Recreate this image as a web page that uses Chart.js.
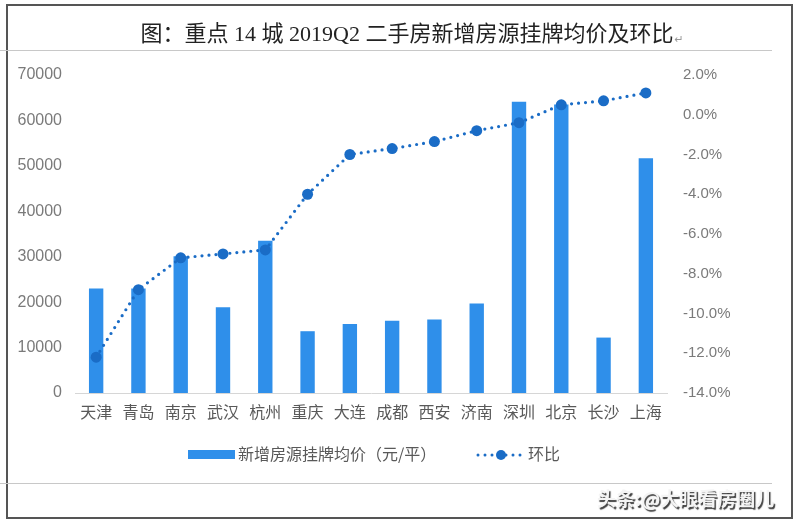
<!DOCTYPE html>
<html>
<head>
<meta charset="utf-8">
<script src="https://cdn.jsdelivr.net/npm/chart.js@4"></script>
<style>
  html, body { margin: 0; padding: 0; background: #fff; }
  #wrap { width: 800px; height: 525px; position: relative; }
</style>
</head>
<body>
<div id="wrap"><canvas id="chart" width="800" height="525"></canvas></div>
<script>
// city list and values
const cities = ['天津', '青岛', '南京', '武汉', '杭州', '重庆', '大连', '成都', '西安', '济南', '深圳', '北京', '长沙', '上海'];
const avgPrice = [23000, 23000, 30100, 18900, 33500, 13600, 15200, 15900, 16200, 19700, 64100, 63500, 12200, 51700];
const momChange = [-12.2, -8.8, -7.2, -7.0, -6.8, -4.0, -2.0, -1.7, -1.35, -0.8, -0.4, 0.5, 0.7, 1.1];
const priceLabel = '新增房源挂牌均价（元/平）';
const momLabel = '环比';
const titleText = '图：重点 14 城 2019Q2 二手房新增房源挂牌均价及环比';

const barColor = '#2f8fea';
const lineColor = '#1a6cc6';
const tickGray = '#7a7a7a';
const cjk = '"Noto Sans CJK SC", "Liberation Sans", sans-serif';

// frame, title, legend and watermark drawn around the chart
const decor = {
  id: 'decor',
  beforeDraw(chart) {
    const c = chart.ctx;
    c.save();
    c.fillStyle = '#fff';
    c.fillRect(0, 0, chart.width, chart.height);
    c.restore();
  },
  afterDraw(chart) {
    const c = chart.ctx;
    c.save();
    // outer frame
    c.strokeStyle = '#555';
    c.lineWidth = 2;
    c.strokeRect(7, 5, 785, 513);
    // thin rules under title and above footer
    c.strokeStyle = '#c8c8c8';
    c.lineWidth = 1;
    c.beginPath();
    c.moveTo(0, 50.5); c.lineTo(772, 50.5);
    c.moveTo(0, 483.5); c.lineTo(772, 483.5);
    c.stroke();

    // title
    c.fillStyle = '#222';
    c.font = '22px "Liberation Serif", "Noto Sans CJK SC", serif';
    c.textBaseline = 'middle';
    c.textAlign = 'left';
    const tw = c.measureText(titleText).width;
    const tx = 407 - tw / 2;
    c.fillText(titleText, tx, 35);
    c.fillStyle = '#999';
    c.font = '11px "DejaVu Sans", sans-serif';
    c.fillText('↵', tx + tw + 1, 40);

    // legend
    c.fillStyle = barColor;
    c.fillRect(188, 450, 47, 9);
    c.fillStyle = '#595959';
    c.font = '16px ' + cjk;
    c.fillText(priceLabel, 238, 454);
    c.strokeStyle = lineColor;
    c.lineWidth = 3;
    c.lineCap = 'round';
    c.setLineDash([0, 7]);
    c.beginPath();
    c.moveTo(478, 455); c.lineTo(521, 455);
    c.stroke();
    c.setLineDash([]);
    c.fillStyle = lineColor;
    c.beginPath();
    c.arc(501, 455, 5, 0, Math.PI * 2);
    c.fill();
    c.fillStyle = '#595959';
    c.fillText(momLabel, 528, 454);

    // watermark
    c.font = 'bold 19px ' + cjk;
    c.shadowColor = 'rgba(0,0,0,0.75)';
    c.shadowOffsetX = 1.5;
    c.shadowOffsetY = 1.5;
    c.shadowBlur = 1;
    c.fillStyle = '#f4f4f4';
    c.fillText('头条:@大眼看房圈儿', 597, 499);
    c.restore();
  }
};

new Chart(document.getElementById('chart'), {
  data: {
    labels: cities,
    datasets: [
      {
        type: 'line',
        label: momLabel,
        data: momChange,
        yAxisID: 'yR',
        borderColor: lineColor,
        backgroundColor: lineColor,
        borderWidth: 3.2,
        borderDash: [0, 7],
        borderCapStyle: 'round',
        pointRadius: 5.5,
        pointBackgroundColor: lineColor,
        pointBorderWidth: 0,
        tension: 0,
        order: 0
      },
      {
        type: 'bar',
        label: priceLabel,
        data: avgPrice,
        yAxisID: 'yL',
        backgroundColor: barColor,
        barPercentage: 0.34,
        categoryPercentage: 1,
        order: 1
      }
    ]
  },
  options: {
    responsive: false,
    animation: false,
    layout: { padding: { top: 75, left: 0, right: 0, bottom: 0 } },
    plugins: {
      legend: { display: false },
      tooltip: { enabled: false }
    },
    scales: {
      x: {
        grid: { display: false, drawTicks: false },
        border: { display: true, color: '#d6d6d6', width: 1 },
        ticks: { color: '#595959', font: { size: 16, family: cjk }, padding: 9, maxRotation: 0, autoSkip: false },
        afterFit(s) { s.height = 132; }
      },
      yL: {
        position: 'left',
        min: 0,
        max: 70000,
        grid: { display: false, drawTicks: false },
        border: { display: false },
        ticks: {
          stepSize: 10000,
          color: tickGray,
          font: { size: 16, family: '"Liberation Sans", sans-serif' },
          padding: 13,
          callback: v => String(v)
        },
        afterFit(s) { s.width = 75; }
      },
      yR: {
        position: 'right',
        min: -14,
        max: 2,
        grid: { display: false, drawTicks: false },
        border: { display: false },
        ticks: {
          stepSize: 2,
          color: tickGray,
          font: { size: 15, family: '"Liberation Sans", sans-serif' },
          padding: 16,
          callback: v => v.toFixed(1) + '%'
        },
        afterFit(s) { s.width = 133; }
      }
    }
  },
  plugins: [decor]
});
</script>
</body>
</html>
